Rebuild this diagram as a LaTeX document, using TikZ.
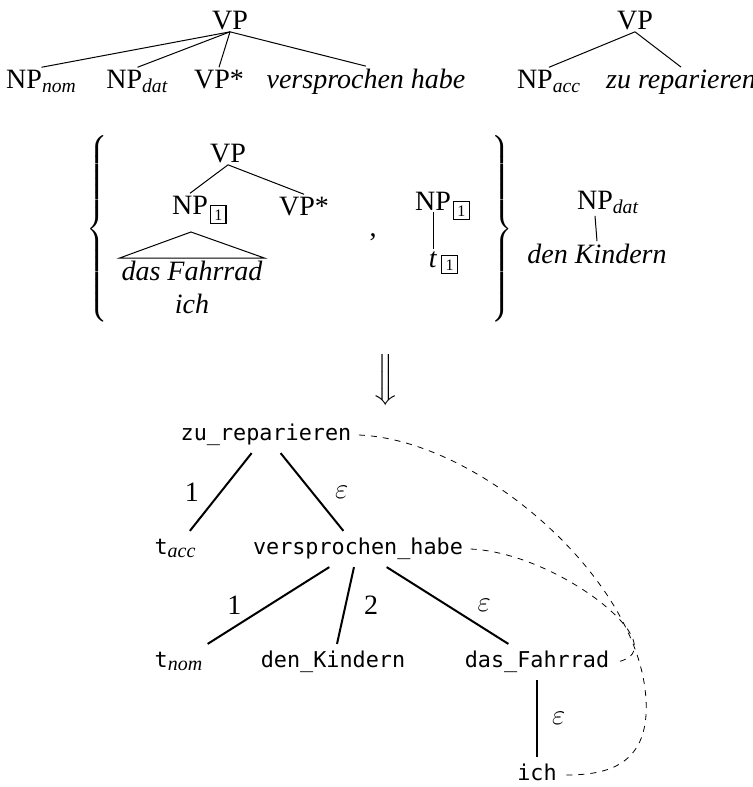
\documentclass[tikz,border=0pt]{standalone}
\usepackage{amsmath}
\usepackage{fontspec}
\setmainfont{Liberation Serif}
\setmonofont{DejaVu Sans Mono}
\usetikzlibrary{calc}

\newcommand{\tagbox}[2][-3pt]{\raisebox{#1}{\fboxsep=1.6pt\fboxrule=0.6pt\fbox{\fontsize{8}{9}\selectfont #2}}}
\newcommand{\us}{\char95\relax}
\newcommand{\lexsub}[1]{\textsubscript{\fontsize{10}{12}\selectfont\rmfamily\itshape #1}}

\tikzset{
  cat/.style={font=\fontsize{14}{16}\selectfont,inner sep=1pt,anchor=base},
  word/.style={font=\fontsize{14}{16}\selectfont\itshape,inner sep=1pt,anchor=base},
  lex/.style={font=\ttfamily\fontsize{10.9}{13}\selectfont,text height=8pt,text depth=2.5pt,inner sep=3.6pt},
  elbl/.style={font=\fontsize{14}{16}\selectfont,inner sep=0pt},
  branch/.style={line width=0.5pt},
  dep/.style={line width=1pt},
  link/.style={dashed,line width=0.4pt},
}

\begin{document}
\begin{tikzpicture}[x=0.5pt,y=-0.5pt]
  \useasboundingbox (0,0) rectangle (753,787);

  \node[cat] (VA) at (230,29) {VP};
  \node[cat] (Nnom) at (41.5,88) {NP\textsubscript{\textit{nom}}};
  \node[cat] (Ndat) at (137.5,88) {NP\textsubscript{\textit{dat}}};
  \node[cat] (Vst) at (219,88) {VP*};
  \node[word] (Wvh) at (366,88) {versprochen habe};
  \foreach \c in {Nnom,Ndat,Vst,Wvh}
    \draw[branch] (VA.south) -- (\c.north);

  \node[cat] (VB) at (635,29) {VP};
  \node[cat] (Nacc) at (549,88) {NP\textsubscript{\textit{acc}}};
  \node[word] (Wzr) at (681,88) {zu reparieren};
  \draw[branch] (VB.south) -- (Nacc.north);
  \draw[branch] (VB.south) -- (Wzr.north);

  \node (LB) at (98,230) {\fontsize{12}{12}\selectfont$\left\{\rule[-45pt]{0pt}{90pt}\right.$};
  \node[cat] (VC) at (228,162) {VP};
  \node[cat] (N1) at (190,214) {NP\rlap{\kern1pt\smash{\tagbox{1}}}};
  \node[cat] (VstB) at (304,215) {VP*};
  \draw[branch] (VC.south) -- (N1.north);
  \draw[branch] (VC.south) -- (VstB.north);
  \node[word] (Wdf) at (192,280) {das Fahrrad};
  \node[word] (Wich) at (192,313) {ich};
  \coordinate (roof) at ($(N1.base)+(1,18)$);
  \draw[branch] (roof) -- (Wdf.north west) -- (Wdf.north east) -- cycle;
  \node[cat] (comma) at (373,236) {,};
  \node[cat] (N1B) at (433,210) {NP\rlap{\kern1pt\smash{\tagbox{1}}}};
  \node[cat] (T1) at (433,267) {\textit{t}\rlap{\kern2pt\smash{\tagbox[-1.5pt]{1}}}};
  \draw[branch] (N1B.south) -- (T1.north);
  \node (RB) at (501,230) {\fontsize{12}{12}\selectfont$\left.\rule[-45pt]{0pt}{90pt}\right\}$};

  \node[cat] (NdatB) at (595,209) {NP\rlap{\textsubscript{\textit{dat}}}};
  \node[word] (Wdk) at (597,263) {den Kindern};
  \draw[branch] (NdatB.south) -- (Wdk.north);

  \node (impl) at (386,380) {\fontsize{14}{16}\selectfont$\Big\Downarrow$};

  \node[lex] (zu) at (266,435) {zu\us reparieren};
  \node[lex] (tacc) at (175.5,549) {t\lexsub{acc}};
  \node[lex] (vh) at (358,549) {versprochen\us habe};
  \node[lex] (tnom) at (179,662) {t\lexsub{nom}};
  \node[lex] (dk) at (333,662) {den\us Kindern};
  \node[lex] (df) at (537,662) {das\us Fahrrad};
  \node[lex] (ich) at (537,775) {ich};

  \draw[dep] (zu) -- node[elbl,left=10.5pt] {1} (tacc);
  \draw[dep] (zu) -- node[elbl,right=11pt] {$\varepsilon$} (vh);
  \draw[dep] (vh) -- node[elbl,left=13pt] {1} (tnom);
  \draw[dep] (vh) -- node[elbl,right=8.75pt] {2} (dk);
  \draw[dep] (vh) -- node[elbl,right=14.5pt] {$\varepsilon$} (df);
  \draw[dep] (df) -- node[elbl,right=7pt] {$\varepsilon$} (ich);

  \coordinate (bulge) at (646,700);
  \draw[link] (zu.east) .. controls (480,440) and (640,580) .. (bulge)
    .. controls (650,770) and (600,775) .. (ich.east);
  \draw[link] (vh.east) .. controls (560,553) and (680,650) .. (df.east);
\end{tikzpicture}
\end{document}
